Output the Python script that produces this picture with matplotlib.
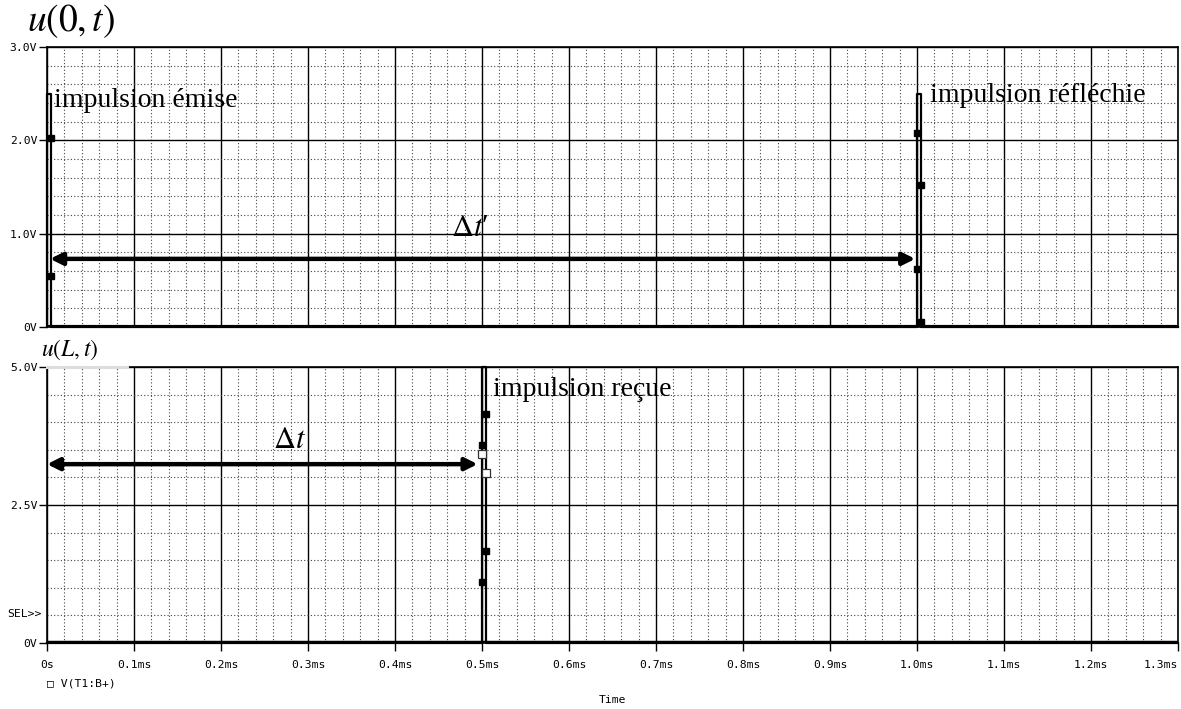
import matplotlib
matplotlib.use("Agg")
import matplotlib.pyplot as plt
from matplotlib.ticker import MultipleLocator, FixedLocator

plt.rcParams['mathtext.fontset'] = 'stix'

# ---- data ----
t_top = [0.0, 0.0, 0.005, 0.005, 1.0, 1.0, 1.005, 1.005, 1.3]
v_top = [0.0, 2.5, 2.5, 0.0, 0.0, 2.5, 2.5, 0.0, 0.0]
t_bot = [0.0, 0.5, 0.5, 0.505, 0.505, 1.3]
v_bot = [0.0, 0.0, 5.0, 5.0, 0.0, 0.0]

mk_top_t = [0.005, 0.005, 1.0, 1.005, 1.0, 1.005]
mk_top_v = [2.03, 0.55, 2.08, 1.52, 0.62, 0.05]
mk_bot_t = [0.505, 0.5, 0.505, 0.5]
mk_bot_v = [4.15, 3.59, 1.67, 1.1]
mk_bot_open_t = [0.5, 0.505]
mk_bot_open_v = [3.42, 3.08]

x_ticks = [0.0, 0.1, 0.2, 0.3, 0.4, 0.5, 0.6, 0.7, 0.8, 0.9, 1.0, 1.1, 1.2, 1.3]
x_labels = ['0s', '0.1ms', '0.2ms', '0.3ms', '0.4ms', '0.5ms', '0.6ms', '0.7ms',
            '0.8ms', '0.9ms', '1.0ms', '1.1ms', '1.2ms', '1.3ms']
top_yticks = [0.0, 1.0, 2.0, 3.0]
top_ylabels = ['0V', '1.0V', '2.0V', '3.0V']
bot_yticks = [0.0, 2.5, 5.0]
bot_ylabels = ['0V', '2.5V', '5.0V']

arrow_top = (0.0035, 0.998, 0.73)
arrow_bot = (0.0, 0.495, 3.24)

W, H = 1181, 709
fig = plt.figure(figsize=(W / 100, H / 100), dpi=100)

L = 47 / W
Wd = (1178 - 47) / W
ax1 = fig.add_axes([L, 1 - 327 / H, Wd, 280 / H])
ax2 = fig.add_axes([L, 1 - 643 / H, Wd, 276 / H])

mono = 'DejaVu Sans Mono'
serif = 'Liberation Serif'
TFS = 8.2

def style(ax, ymax, ymaj, yticks, ylabels, show_x):
    ax.set_xlim(0, 1.3)
    ax.set_ylim(0, ymax)
    ax.xaxis.set_major_locator(FixedLocator(x_ticks))
    ax.xaxis.set_minor_locator(MultipleLocator(0.02))
    ax.yaxis.set_major_locator(FixedLocator(yticks))
    ax.yaxis.set_minor_locator(MultipleLocator(ymaj / 5))
    ax.grid(which='major', color='black', lw=1.0, ls='-')
    ax.grid(which='minor', color='#444444', lw=0.8, ls=(0, (1, 2)))
    ax.set_axisbelow(True)
    ax.set_yticklabels(ylabels, fontfamily=mono, fontsize=TFS)
    ax.tick_params(axis='y', which='major', direction='out', length=6, width=1, pad=1)
    ax.tick_params(axis='y', which='minor', length=0)
    ax.tick_params(axis='x', which='minor', length=0)
    if show_x:
        labs = ax.set_xticklabels(x_labels, fontfamily=mono, fontsize=TFS)
        labs[-1].set_horizontalalignment('right')
        ax.tick_params(axis='x', which='major', direction='out', length=6, width=1, pad=6)
    else:
        ax.set_xticklabels([])
        ax.tick_params(axis='x', which='major', length=0)
    for s in ax.spines.values():
        s.set_color('black')
        s.set_linewidth(1.2)

style(ax1, 3.0, 1.0, top_yticks, top_ylabels, False)
style(ax2, 5.0, 2.5, bot_yticks, bot_ylabels, True)

ax1.plot(t_top, v_top, color='black', lw=1.6, clip_on=False, zorder=5)
ax2.plot(t_bot, v_bot, color='black', lw=1.6, clip_on=False, zorder=5)
ax1.axhline(0, color='black', lw=3, zorder=4)
ax2.axhline(0, color='black', lw=3.2, zorder=4)

ax1.plot(mk_top_t, mk_top_v, ls='none', marker='s', ms=4.5, color='black', zorder=6)
ax2.plot(mk_bot_t, mk_bot_v, ls='none', marker='s', ms=4.5, color='black', zorder=6)
ax2.plot(mk_bot_open_t, mk_bot_open_v, ls='none', marker='s', ms=6, mfc='white',
         mec='#333333', mew=0.9, zorder=7)

# annotations
ax1.text(0.008, 2.43, 'impulsion émise', fontfamily=serif, fontsize=20,
         va='center', ha='left', zorder=8)
ax1.text(1.015, 2.48, 'impulsion réfléchie', fontfamily=serif, fontsize=20,
         va='center', ha='left', zorder=8)
ax2.text(0.513, 4.6, 'impulsion reçue', fontfamily=serif, fontsize=20,
         va='center', ha='left', zorder=8)

ax1.annotate('', xy=(arrow_top[0], arrow_top[2]), xytext=(arrow_top[1], arrow_top[2]),
             arrowprops=dict(arrowstyle='<|-|>', lw=3.2, color='black',
                             mutation_scale=18, shrinkA=0, shrinkB=0), zorder=8)
ax2.annotate('', xy=(arrow_bot[0], arrow_bot[2]), xytext=(arrow_bot[1], arrow_bot[2]),
             arrowprops=dict(arrowstyle='<|-|>', lw=3.2, color='black',
                             mutation_scale=18, shrinkA=0, shrinkB=0), zorder=8)
ax1.text(0.486, 1.06, r"$\Delta t$" + '\u2032', fontsize=22, ha='center', va='center',
         fontfamily=['Liberation Serif', 'DejaVu Serif'], zorder=8)
ax2.text(0.279, 3.68, r"$\Delta t$", fontsize=22, ha='center', va='center', zorder=8)

# light segment of bottom axes top border behind the label
ax2.plot([0, 0.071], [1, 1], transform=ax2.transAxes, color='#dddddd', lw=2.2,
         clip_on=False, zorder=10)

fig.text(71 / W, 1 - 21 / H, r'$u(0,t)$', fontsize=27, ha='center', va='center')
fig.text(70 / W, 1 - 350 / H, r'$u(L,t)$', fontsize=17, ha='center', va='center')
fig.text(42 / W, 1 - 614 / H, 'SEL>>', fontfamily=mono, fontsize=TFS,
         ha='right', va='center')
fig.text(47 / W, 1 - 683 / H, '\u25a1 V(T1:B+)', fontfamily=mono, fontsize=TFS,
         ha='left', va='center')
fig.text(612 / W, 1 - 700 / H, 'Time', fontfamily=mono, fontsize=TFS,
         ha='center', va='center')

fig.savefig('out.png', dpi=100)
